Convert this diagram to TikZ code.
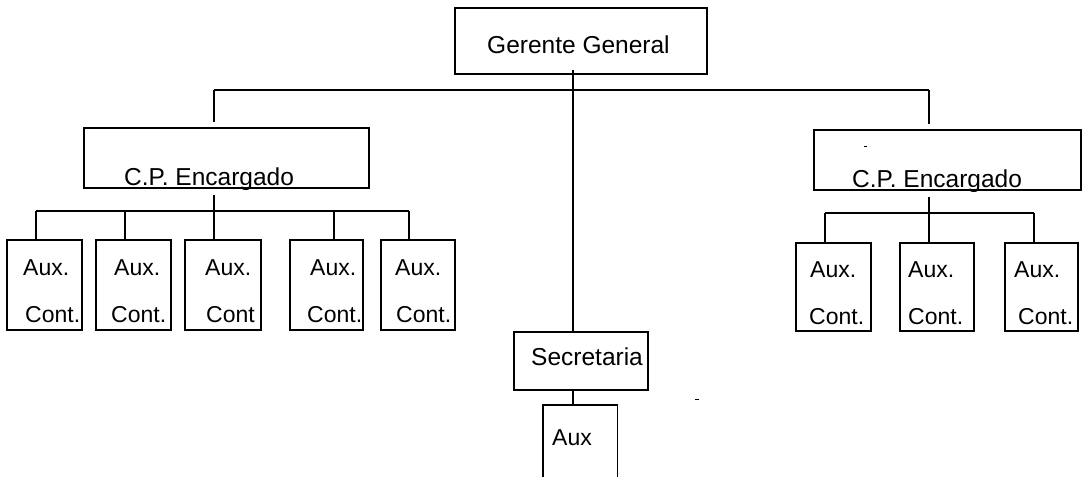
\documentclass[tikz,border=0pt]{standalone}
\usepackage{fontspec}
\setmainfont{Liberation Sans}
\begin{document}
\begin{tikzpicture}[x=1pt,y=-1pt,
  box/.style={draw=black,line width=1.6pt,inner sep=0pt,anchor=north west},
  txt/.style={inner sep=0pt,anchor=base west,font=\fontsize{24.5}{29}\selectfont},
  stxt/.style={inner sep=0pt,anchor=base west,font=\fontsize{23}{28}\selectfont},
  conn/.style={draw=black,line width=1.1pt}]
\useasboundingbox[fill=white] (0,0) rectangle (1084,477);
% top
\node[box,minimum width=252pt,minimum height=66pt] (gg) at (454,7) {};
\node[txt] (ggt) at (487,53) {Gerente General};
% CP boxes
\node[box,minimum width=285pt,minimum height=60pt] (cpl) at (83,127) {};
\node[txt] (cplt) at (124,185) {C.P. Encargado};
\node[box,minimum width=267pt,minimum height=60pt] (cpr) at (813,129) {};
\node[txt] (cprt) at (852,187) {C.P. Encargado};
% left aux boxes
\node[box,minimum width=75pt,minimum height=90pt] (a1) at (6,239) {};
\node[box,minimum width=75pt,minimum height=90pt] (a2) at (95,239) {};
\node[box,minimum width=76pt,minimum height=90pt] (a3) at (184,239) {};
\node[box,minimum width=73pt,minimum height=90pt] (a4) at (289,239) {};
\node[box,minimum width=74pt,minimum height=90pt] (a5) at (380,239) {};
\node[stxt] (a1a) at (23,275) {Aux.};  \node[stxt] (a1b) at (25,322) {Cont.};
\node[stxt] (a2a) at (114,275) {Aux.}; \node[stxt] (a2b) at (111,322) {Cont.};
\node[stxt] (a3a) at (205,275) {Aux.}; \node[stxt] (a3b) at (206,322) {Cont};
\node[stxt] (a4a) at (310,275) {Aux.}; \node[stxt] (a4b) at (307,322) {Cont.};
\node[stxt] (a5a) at (395,275) {Aux.}; \node[stxt] (a5b) at (396,322) {Cont.};
% right aux boxes
\node[box,minimum width=75pt,minimum height=88pt] (b1) at (795,242) {};
\node[box,minimum width=74pt,minimum height=88pt] (b2) at (899,242) {};
\node[box,minimum width=73pt,minimum height=88pt] (b3) at (1004,242) {};
\node[stxt] (b1a) at (810,277) {Aux.};  \node[stxt] (b1b) at (809,324) {Cont.};
\node[stxt] (b2a) at (908,277) {Aux.};  \node[stxt] (b2b) at (908,324) {Cont.};
\node[stxt] (b3a) at (1014,277) {Aux.}; \node[stxt] (b3b) at (1018,324) {Cont.};
% secretaria and aux
\node[box,minimum width=134pt,minimum height=58pt] (sec) at (513,331) {};
\node[txt] (sect) at (531,365) {Secretaria};
\node[inner sep=0pt,minimum width=74pt,minimum height=72pt,anchor=north west] (ax) at (543,405) {};
\draw[line width=1.6pt] (ax.south west) -- (ax.north west) -- (ax.north east) -- (ax.south east);
\node[stxt] (axt) at (552,445) {Aux};
% junction coordinates
\coordinate (jl) at (214,90);
\coordinate (jm) at (573,90);
\coordinate (jr) at (929,90);
\coordinate (hl) at (214,211);
\coordinate (hll) at (36,211);
\coordinate (hlr) at (409,211);
\coordinate (hr) at (929,213);
\coordinate (hrl) at (825,213);
\coordinate (hrr) at (1034,213);
\coordinate (c1) at (36,211);
\coordinate (c2) at (125,211);
\coordinate (c4) at (334,211);
\coordinate (c5) at (409,211);
\coordinate (d1) at (825,213);
\coordinate (d3) at (1034,213);
% connectors
\draw[conn] (jl) -- (jr);
\draw[conn] (gg.south -| jm) ++(0,-5) -- (sec.north -| jm);
\draw[conn] (jl) -- ([yshift=5]cpl.north -| jl);
\draw[conn] (jr) -- ([yshift=5]cpr.north -| jr);
\draw[conn] ([yshift=-6]cpl.south -| hl) -- (hl);
\draw[conn] (hll) -- (hlr);
\draw[conn] (c1) -- (a1.north -| c1);
\draw[conn] (c2) -- (a2.north -| c2);
\draw[conn] (hl) -- (a3.north -| hl);
\draw[conn] (c4) -- (a4.north -| c4);
\draw[conn] (c5) -- (a5.north -| c5);
\draw[conn] ([yshift=-6]cpr.south -| hr) -- (hr);
\draw[conn] (hrl) -- (hrr);
\draw[conn] (d1) -- (b1.north -| d1);
\draw[conn] (hr) -- (b2.north -| hr);
\draw[conn] (d3) -- (b3.north -| d3);
\draw[conn] (sec.south -| jm) -- (ax.north -| jm);
% small stray marks
\draw[line width=1pt] (695,399) -- (699,399);
\draw[line width=1pt] (864,146) -- (867,146);
\end{tikzpicture}
\end{document}
